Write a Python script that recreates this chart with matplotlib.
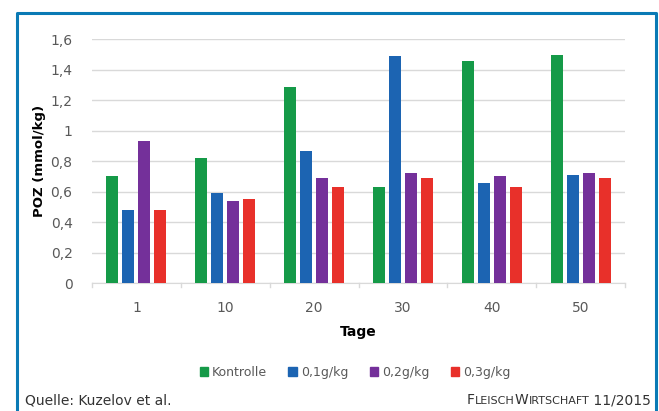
import numpy as np
import matplotlib.pyplot as plt
import matplotlib.patches as mpatches

# POZ content over storage time for the control and three additive doses
tage = ['1', '10', '20', '30', '40', '50']
kontrolle = [0.70, 0.82, 1.29, 0.63, 1.46, 1.50]
dose_01 = [0.48, 0.59, 0.87, 1.49, 0.66, 0.71]
dose_02 = [0.93, 0.54, 0.69, 0.72, 0.70, 0.72]
dose_03 = [0.48, 0.55, 0.63, 0.69, 0.63, 0.69]
series_labels = ['Kontrolle', '0,1g/kg', '0,2g/kg', '0,3g/kg']
y_ticks = [0, 0.2, 0.4, 0.6, 0.8, 1.0, 1.2, 1.4, 1.6]
y_tick_labels = ['0', '0,2', '0,4', '0,6', '0,8', '1', '1,2', '1,4', '1,6']

colors = ['#159a48', '#1c64b2', '#74309a', '#e8302a']
frame_blue = '#0a7ab5'
grey_text = '#595959'

fig = plt.figure(figsize=(6.59, 4.11), dpi=100)
ax = fig.add_axes([92 / 659, 1 - 283 / 411, 533 / 659, (283 - 39.5) / 411])

x = np.arange(len(tage))
step = 0.18
width = 0.135
for i, (vals, col, lab) in enumerate(zip([kontrolle, dose_01, dose_02, dose_03], colors, series_labels)):
    ax.bar(x + (i - 1.5) * step, vals, width, color=col, label=lab, zorder=3)

ax.set_xlim(-0.5, len(tage) - 0.5)
ax.set_ylim(0, 1.6)
ax.set_yticks(y_ticks)
ax.set_yticklabels(y_tick_labels)
ax.set_xticks(x)
ax.set_xticklabels(tage)
ax.grid(axis='y', color='#d9d9d9', linewidth=1.0, zorder=0)
for side in ['top', 'right', 'left']:
    ax.spines[side].set_visible(False)
ax.spines['bottom'].set_color('#d9d9d9')
ax.tick_params(axis='y', length=0, pad=14, labelsize=10, colors=grey_text)
ax.tick_params(axis='x', length=0, pad=13, labelsize=10, colors=grey_text)
# small ticks between the day groups on the baseline
for b in np.arange(-0.5, len(tage), 1.0):
    ax.plot([b, b], [0, -0.025], color='#d9d9d9', lw=1, clip_on=False)

ax.set_ylabel('POZ (mmol/kg)', fontsize=9.5, fontweight='bold', labelpad=3)
ax.set_xlabel('Tage', fontsize=10, fontweight='bold', labelpad=7)

handles = [mpatches.Patch(color=c, label=l) for c, l in zip(colors, series_labels)]
leg = fig.legend(handles=handles, loc='center', bbox_to_anchor=(355 / 659, 1 - 372 / 411),
                 ncol=4, frameon=False, fontsize=9, handlelength=0.7, handleheight=0.7,
                 handletextpad=0.3, columnspacing=1.7)
for t in leg.get_texts():
    t.set_color(grey_text)

# blue frame around the chart
frame = plt.Line2D([17 / 659, 17 / 659, 656 / 659, 656 / 659], [0, 1 - 13.5 / 411, 1 - 13.5 / 411, 0],
                   transform=fig.transFigure, color=frame_blue, lw=2.2)
fig.add_artist(frame)

fig.text(25 / 659, 1 - 404 / 411, 'Quelle: Kuzelov et al.', fontsize=10, color='#333333',
         va='baseline', ha='left')

# publication credit in small caps, built right to left
pieces = [('F', 10), ('LEISCH', 8), ('W', 10), ('IRTSCHAFT', 8), (' 11/2015', 10)]
fig.canvas.draw()
renderer = fig.canvas.get_renderer()
xr = 651
for txt, size in reversed(pieces):
    t = fig.text(xr / 659, 1 - 404 / 411, txt, fontsize=size, color='#333333',
                 ha='right', va='baseline')
    bb = t.get_window_extent(renderer)
    xr -= bb.width

fig.savefig('out.png', dpi=100)
